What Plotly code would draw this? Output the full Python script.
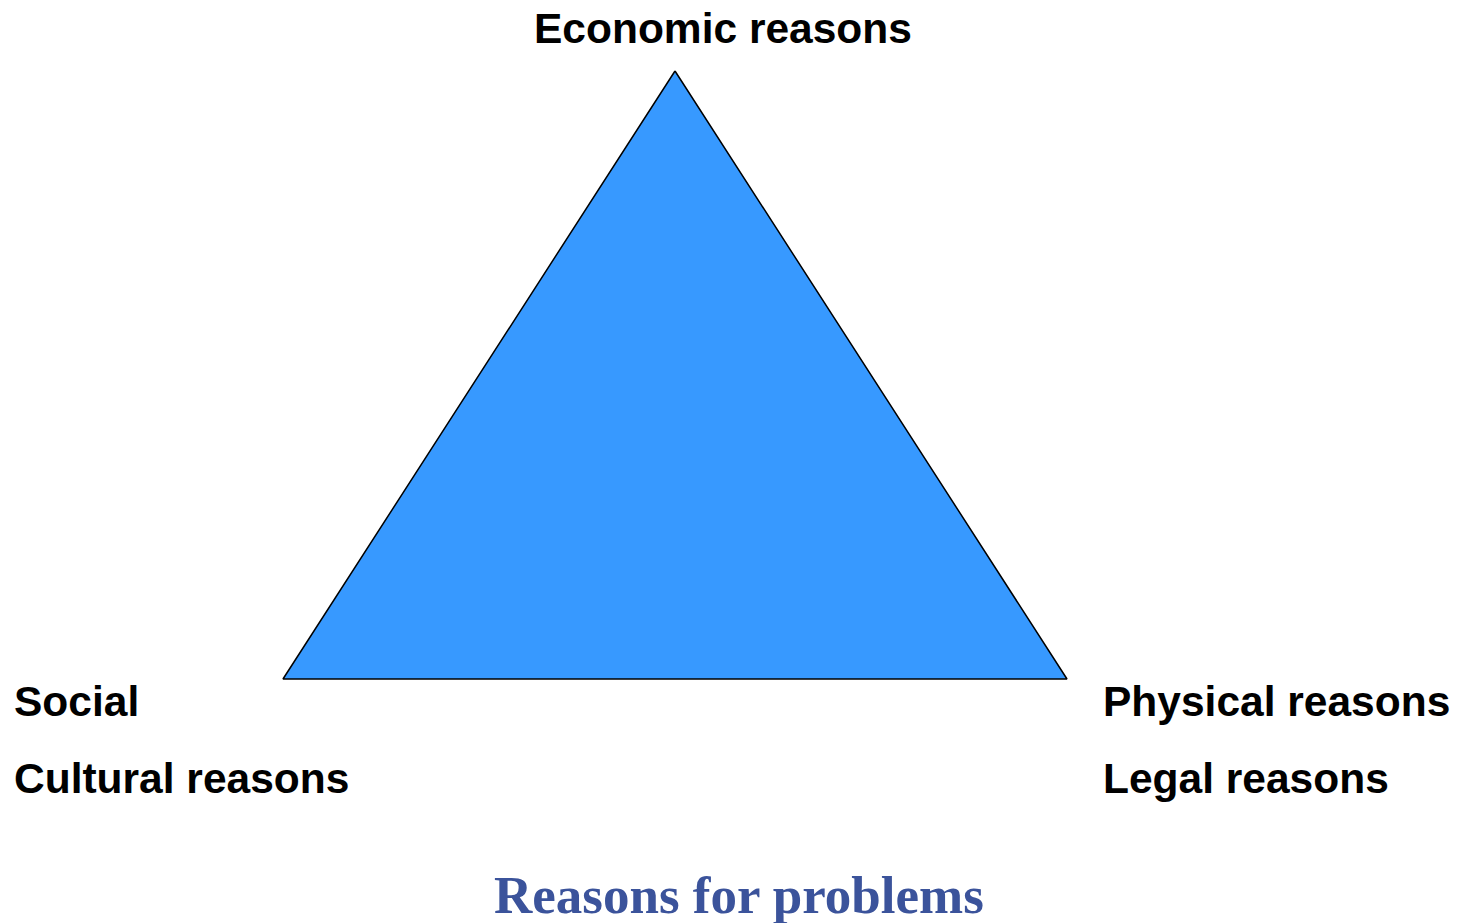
import plotly.graph_objects as go

# Triangle vertices (pixel space of the canvas)
vertex_x = [675, 283, 1067, 675]
vertex_y = [71, 679, 679, 71]

# Labels around the triangle
label_texts = ["Economic reasons", "Social", "Cultural reasons", "Physical reasons", "Legal reasons"]
label_x = [723, 12, 12, 1101, 1101]
label_y = [28, 701, 778, 701, 778]
label_anchor = ["center", "left", "left", "left", "left"]

title_text = "Reasons for problems"

W, H = 1461, 923

fig = go.Figure()
fig.add_trace(go.Scatter(
    x=vertex_x, y=vertex_y, mode="lines", fill="toself",
    fillcolor="#3799FF", line=dict(color="#000000", width=1.5),
    hoverinfo="skip", showlegend=False,
))

for t, x, y, a in zip(label_texts, label_x, label_y, label_anchor):
    fig.add_annotation(
        x=x, y=y, xref="x", yref="y", text=t, showarrow=False,
        xanchor=a, yanchor="middle",
        font=dict(family="Liberation Sans, Arial, sans-serif", size=42.5, color="#000000", weight="bold"),
    )

fig.add_annotation(
    x=739, y=895, xref="x", yref="y", text=title_text, showarrow=False,
    xanchor="center", yanchor="middle",
    font=dict(family="Liberation Serif, Times New Roman, serif", size=53, color="#3B539B", weight="bold"),
)

fig.update_xaxes(range=[0, W], visible=False, fixedrange=True)
fig.update_yaxes(range=[H, 0], visible=False, fixedrange=True)
fig.update_layout(
    width=W, height=H, margin=dict(l=0, r=0, t=0, b=0),
    paper_bgcolor="#FFFFFF", plot_bgcolor="#FFFFFF",
)

fig.write_html(
    "out.html",
    config={"displayModeBar": False, "staticPlot": True},
    post_script="document.body.style.margin='0';document.body.style.overflow='hidden';",
)
